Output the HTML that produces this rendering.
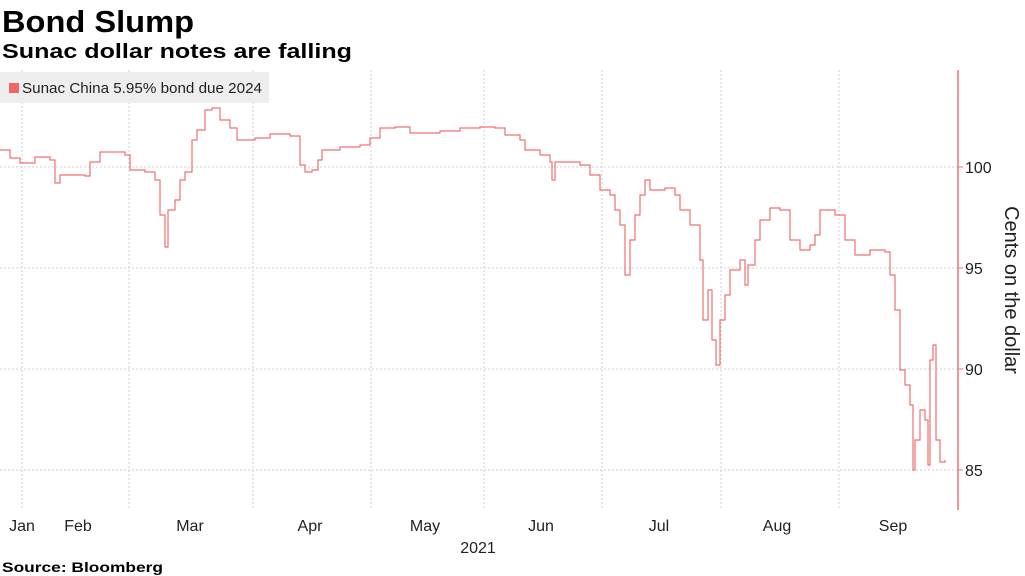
<!DOCTYPE html>
<html><head><meta charset="utf-8"><style>
body{margin:0;background:#fff;width:1025px;height:576px;overflow:hidden;font-family:"Liberation Sans",sans-serif;}
</style></head><body>
<svg width="1025" height="576" xmlns="http://www.w3.org/2000/svg" style="position:absolute;left:0;top:0">
<text x="2" y="32" font-size="31" font-weight="bold" fill="#000" font-family="Liberation Sans" textLength="192" lengthAdjust="spacingAndGlyphs">Bond Slump</text>
<text x="2" y="58" font-size="20" font-weight="bold" fill="#000" font-family="Liberation Sans" textLength="350" lengthAdjust="spacingAndGlyphs">Sunac dollar notes are falling</text>
<g stroke="#d0d0d0" stroke-dasharray="2,2" stroke-width="1">
<line x1="0" y1="167" x2="958" y2="167"/><line x1="0" y1="268" x2="958" y2="268"/>
<line x1="0" y1="369" x2="958" y2="369"/><line x1="0" y1="470" x2="958" y2="470"/>
<line x1="22" y1="70" x2="22" y2="510"/><line x1="129" y1="70" x2="129" y2="510"/>
<line x1="253" y1="70" x2="253" y2="510"/><line x1="371" y1="70" x2="371" y2="510"/>
<line x1="484" y1="70" x2="484" y2="510"/><line x1="602" y1="70" x2="602" y2="510"/>
<line x1="721" y1="70" x2="721" y2="510"/><line x1="839" y1="70" x2="839" y2="510"/>
</g>
<rect x="0" y="72" width="269" height="31" fill="#eeeeee"/>
<rect x="9" y="83" width="10" height="10" fill="#f56565"/>
<text x="22" y="93" font-size="15" fill="#222" font-family="Liberation Sans" textLength="240" lengthAdjust="spacingAndGlyphs">Sunac China 5.95% bond due 2024</text>
<path id="ser" fill="none" stroke="#f07070" stroke-width="1.2" d=""/>
<line x1="958" y1="70" x2="958" y2="510" stroke="#f07070" stroke-width="1.5"/>
<g stroke="#f07070"><line x1="958" y1="167" x2="963" y2="167"/><line x1="958" y1="268" x2="963" y2="268"/><line x1="958" y1="369" x2="963" y2="369"/><line x1="958" y1="470" x2="963" y2="470"/></g>
<g font-size="16" fill="#222" font-family="Liberation Sans">
<text x="965" y="173">100</text><text x="965" y="274">95</text><text x="965" y="375">90</text><text x="965" y="476">85</text>
</g>
<text transform="translate(1005,290) rotate(90)" text-anchor="middle" font-size="20" fill="#222" font-family="Liberation Sans">Cents on the dollar</text>
<g font-size="16" fill="#222" font-family="Liberation Sans" text-anchor="middle">
<text x="22" y="531">Jan</text><text x="78" y="531">Feb</text><text x="190" y="531">Mar</text><text x="310" y="531">Apr</text><text x="425" y="531">May</text><text x="541" y="531">Jun</text><text x="659" y="531">Jul</text><text x="777" y="531">Aug</text><text x="893" y="531">Sep</text>
<text x="478" y="553">2021</text>
</g>
<text x="2" y="572" font-size="14" font-weight="bold" fill="#000" font-family="Liberation Sans" textLength="161" lengthAdjust="spacingAndGlyphs">Source: Bloomberg</text>
</svg>
<script>
var p=[0,150,10,158,20,163,35,157,50,160,55,183,60,175,85,176,90,162,100,152,125,155,130,170,145,172,155,180,160,215,165,247,168,210,175,200,180,180,185,172,192,140,197,130,205,110,212,108,220,120,230,128,237,140,255,138,270,134,290,136,300,165,305,172,312,170,318,160,322,150,340,147,360,145,370,138,380,128,395,127,410,133,440,131,460,128,480,127,495,128,505,135,520,140,525,150,540,155,550,162,552,180,555,162,580,165,590,175,600,190,610,195,615,210,620,225,625,275,630,240,635,215,640,195,645,180,650,190,665,188,675,195,680,210,690,225,700,260,703,320,708,290,712,340,716,365,720,320,725,295,730,270,740,260,745,285,748,265,755,240,760,220,770,208,780,210,790,240,800,250,810,245,815,235,820,210,835,215,845,240,855,255,870,250,885,252,890,275,895,310,900,370,905,385,910,405,913,470,915,440,920,410,925,420,928,465,930,360,933,345,936,440,940,462,945,460];
var d="M"+p[0]+","+p[1];
for(var i=2;i<p.length;i+=2){d+=" H"+p[i]+" V"+p[i+1];}
document.getElementById("ser").setAttribute("d",d);
</script>
</body></html>
